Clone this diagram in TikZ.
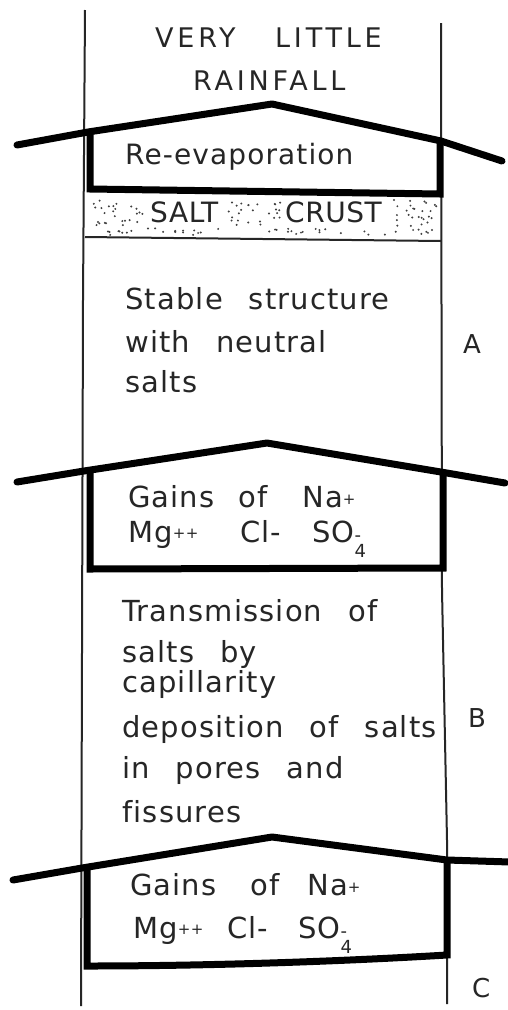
\documentclass[tikz,border=0pt]{standalone}
\usepackage{fontspec}
\setmainfont{DejaVu Sans}
\newfontfamily\bodyf[LetterSpace=4,WordSpace=2.5,Ligatures=NoCommon]{DejaVu Sans}
\newfontfamily\capf[LetterSpace=14,Ligatures=NoCommon]{DejaVu Sans}
\newfontfamily\crustf[LetterSpace=2,Ligatures=NoCommon]{DejaVu Sans}
\newcommand\smallsym[1]{{\fontsize{15}{15}\selectfont #1}}
\begin{document}
\begin{tikzpicture}[x=1pt,y=-1pt,
  thinline/.style={line width=2pt, draw=black!85},
  thickline/.style={line width=7pt, line cap=round, line join=round, draw=black},
  boxline/.style={line width=7pt, line join=miter, draw=black},
  txt/.style={anchor=base west, inner sep=0pt, text=black!85, font=\bodyf\fontsize{29}{34}\selectfont},
  caps/.style={anchor=base west, inner sep=0pt, text=black!85, font=\capf\fontsize{27}{32}\selectfont},
  crust/.style={anchor=base west, inner sep=0pt, text=black!85, font=\crustf\fontsize{28}{32}\selectfont},
  lab/.style={anchor=base west, inner sep=0pt, text=black!85, font=\bodyf\fontsize{26}{30}\selectfont},
  dotc/.style={fill=black!75}]
\useasboundingbox (0,0) rectangle (507,1010);
\fill[white] (0,0) rectangle (507,1010);

% thin column borders
\draw[thinline] (85,10) -- (83,300) -- (81,1006);
\draw[thinline] (441,23) -- (442,590) -- (447,840) -- (447,1004);

% top text
\node[caps] (t1) at (155,47) {VERY};
\node[caps] (t2) at (275,47) {LITTLE};
\node[caps] (t3) at (193,90) {RAINFALL};

% roof 1 and box 1
\draw[thickline] (17,145) -- (88,132) -- (272,104) -- (441,141) -- (502,161);
\draw[boxline] (90,132) -- (90,189) -- (440,194) -- (440,140);
\node[txt, font=\bodyf\fontsize{28}{32}\selectfont] (re) at (125,164) {Re-evaporation};

% salt crust
\pgfmathsetseed{42}
\foreach \i in {1,...,26}{\fill[dotc] ({93+52*rnd},{200+26*rnd}) circle[radius=1.1pt];}
\foreach \i in {1,...,26}{\fill[dotc] ({228+53*rnd},{200+26*rnd}) circle[radius=1.1pt];}
\foreach \i in {1,...,26}{\fill[dotc] ({387+50*rnd},{200+27*rnd}) circle[radius=1.1pt];}
\foreach \i in {1,...,45}{\fill[dotc] ({93+344*rnd},{228+7*rnd}) circle[radius=1.1pt];}
\draw[thinline] (85,237) -- (441,241);
\node[crust] (salt) at (150,222) {SALT};
\node[crust] (crst) at (285,222) {CRUST};

% zone A text
\node[txt] (a1) at (125,309) {Stable structure};
\node[txt] (a2) at (125,352) {with neutral};
\node[txt] (a3) at (125,392) {salts};
\node[lab] (la) at (463,353) {A};

% roof 2 and box 2
\draw[thickline] (17,482) -- (84,471) -- (267,443) -- (441,472) -- (505,483);
\draw[boxline] (90,471) -- (90,569) -- (443,568) -- (443,472);
\node[txt] (g1) at (128,507) {Gains};
\node[txt] (g2) at (238,507) {of};
\node[txt] (g3) at (302,507) {Na\raisebox{3pt}{\smallsym{+}}};
\node[txt] (g4) at (128,542) {Mg\raisebox{4pt}{\smallsym{++}}};
\node[txt] (g5) at (240,542) {Cl-};
\node[txt] (g6) at (312,542) {SO\rlap{\raisebox{-15pt}{\fontsize{18}{18}\selectfont 4}}\raisebox{1pt}{\fontsize{18}{18}\selectfont -}};

% zone B text
\node[txt] (b1) at (122,621) {Transmission of};
\node[txt] (b2) at (122,662) {salts by};
\node[txt] (b3) at (122,692) {capillarity};
\node[txt] (b4) at (122,737) {deposition of salts};
\node[txt] (b5) at (122,778) {in pores and};
\node[txt] (b6) at (122,822) {fissures};
\node[lab] (lb) at (468,727) {B};

% roof 3 and box 3
\draw[thickline] (13,880) -- (82,868) -- (272,837) -- (447,860) -- (510,862);
\draw[boxline] (87,868) -- (87,966) .. controls (200,966) and (330,962) .. (447,955) -- (447,860);
\node[txt] (h1) at (130,895) {Gains};
\node[txt] (h2) at (250,895) {of};
\node[txt] (h3) at (307,895) {Na\raisebox{3pt}{\smallsym{+}}};
\node[txt] (h4) at (133,938) {Mg\raisebox{4pt}{\smallsym{++}}};
\node[txt] (h5) at (227,938) {Cl-};
\node[txt] (h6) at (298,938) {SO\rlap{\raisebox{-15pt}{\fontsize{18}{18}\selectfont 4}}\raisebox{1pt}{\fontsize{18}{18}\selectfont -}};
\node[lab] (lc) at (472,997) {C};
\end{tikzpicture}
\end{document}
